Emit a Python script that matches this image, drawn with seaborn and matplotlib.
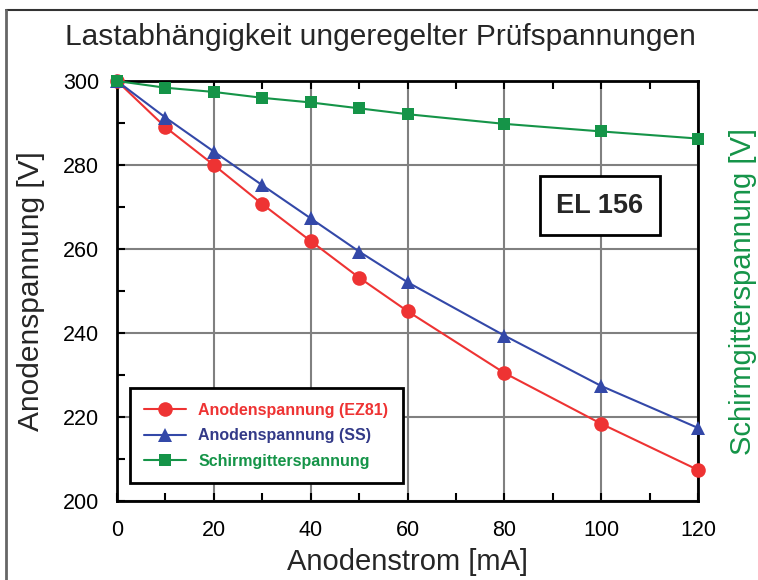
import pandas as pd
import seaborn as sns
import matplotlib.pyplot as plt
from matplotlib.ticker import MultipleLocator

strom = [0, 10, 20, 30, 40, 50, 60, 80, 100, 120]
ez81 = [300, 289, 280, 270.7, 261.9, 253.2, 245.2, 230.5, 218.4, 207.4]
ss = [300, 291.3, 283.2, 275.2, 267.3, 259.4, 252.1, 239.4, 227.4, 217.4]
schirm = [300, 298.4, 297.4, 296.0, 294.9, 293.5, 292.1, 289.8, 288.0, 286.3]
namen = ['Anodenspannung (EZ81)', 'Anodenspannung (SS)', 'Schirmgitterspannung']
farben = ['#ee3333', '#3348a8', '#159448']
textfarben = ['#ee3333', '#333a88', '#159448']
marker = ['o', '^', 's']
msize = [10.5, 10, 8]

sns.set_style('ticks')
plt.rcParams['font.family'] = ['Liberation Sans', 'DejaVu Sans']

fig = plt.figure(figsize=(7.58, 5.8), dpi=100)
ax = fig.add_axes([0.1544, 0.1362, 0.7664, 0.7241])

for name, werte, f, m, ms in zip(namen, [ez81, ss, schirm], farben, marker, msize):
    sns.lineplot(x=strom, y=werte, ax=ax, color=f, marker=m, markersize=ms,
                 markeredgewidth=0, linewidth=1.5, label=name, clip_on=False, zorder=5)

ax.set_xlim(0, 120)
ax.set_ylim(200, 300)
ax.xaxis.set_major_locator(MultipleLocator(20))
ax.xaxis.set_minor_locator(MultipleLocator(10))
ax.yaxis.set_major_locator(MultipleLocator(20))
ax.yaxis.set_minor_locator(MultipleLocator(10))
ax.grid(True, which='major', color='#808080', linewidth=1.5)
ax.set_axisbelow(True)
ax.tick_params(which='both', direction='in', top=True, right=True, length=6,
               width=1.5, labelsize=15.5, colors='black')
ax.tick_params(axis='y', pad=13)
ax.tick_params(axis='x', pad=14)
for s in ax.spines.values():
    s.set_linewidth(2)
    s.set_color('black')

ax.set_xlabel('Anodenstrom [mA]', fontsize=21, labelpad=5)
ax.set_ylabel('Anodenspannung [V]', fontsize=21.5, labelpad=13)
ax2 = ax.twinx()
ax2.set_ylim(200, 300)
ax2.set_yticks([])
ax2.set_ylabel('Schirmgitterspannung [V]', fontsize=21, color='#159448', labelpad=22)
for s in ax2.spines.values():
    s.set_visible(False)

fig.text(0.502, 1 - 37 / 580, 'Lastabhängigkeit ungeregelter Prüfspannungen',
         fontsize=21.5, ha='center', va='center')

ax.text(0.831, 0.7036, 'EL 156', transform=ax.transAxes, fontsize=19.5, fontweight='bold',
        ha='center', va='center',
        bbox=dict(boxstyle='square,pad=0.6', facecolor='white', edgecolor='black', linewidth=2))

leg = ax.legend(loc='lower left', bbox_to_anchor=(0.022, 0.043), frameon=True, fancybox=False,
                edgecolor='black', framealpha=1, handlelength=2.6, borderpad=0.9,
                labelspacing=0.65, borderaxespad=0, prop={'weight': 'bold', 'size': 11.5})
leg.get_frame().set_linewidth(2)
for t, c in zip(leg.get_texts(), textfarben):
    t.set_color(c)

fig.add_artist(plt.Line2D([6 / 758, 1], [1 - 10 / 580, 1 - 10 / 580], color='#333333', linewidth=1.5))
fig.add_artist(plt.Line2D([6 / 758, 6 / 758], [0, 1 - 10 / 580], color='#666666', linewidth=2))

fig.savefig('out.png', dpi=100)
